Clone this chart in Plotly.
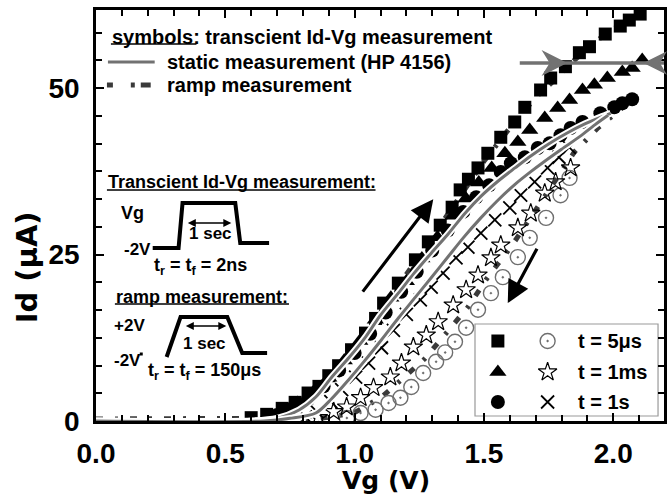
import plotly.graph_objects as go

# ---------------- data ----------------
sq_v = [0.60,0.66,0.72,0.77,0.82,0.862,0.90,0.938,0.988,1.042,1.081,1.112,1.169,1.235,1.285,1.331,1.377,1.408,1.44,1.477,1.515,1.565,1.619,1.658,1.719,1.758,1.815,1.869,1.908,1.969,2.027,2.062,2.104]
sq_i = [0.5,1.0,1.9,2.8,4.2,5.2,6.8,8.3,10.7,13.2,15.4,17.7,20.7,24.2,26.9,29.4,32.1,34.7,36.3,38.0,40.2,42.6,44.9,47.1,49.7,51.5,53.2,55.3,56.2,58.1,59.3,60.2,61.1]

tri_v = [0.66,0.72,0.78,0.84,0.90,0.96,1.02,1.08,1.14,1.20,1.26,1.32,1.38,1.43,1.48,1.53,1.581,1.631,1.677,1.735,1.785,1.831,1.881,1.927,1.977,2.035,2.073,2.112]
tri_i = [0.7,1.5,2.7,4.3,6.5,9.1,12.0,15.2,18.5,21.0,24.4,27.6,30.8,33.4,35.8,38.0,40.2,41.9,43.7,45.5,47.0,48.2,49.7,50.5,51.5,52.4,53.0,54.2]

cir_v = [0.70,0.76,0.82,0.88,0.94,1.00,1.06,1.12,1.18,1.24,1.30,1.36,1.42,1.47,1.52,1.565,1.604,1.658,1.708,1.754,1.796,1.835,1.881,1.95,2.004,2.035,2.073]
cir_i = [0.9,1.9,3.2,5.2,7.6,10.2,13.1,16.3,19.4,22.4,25.6,28.6,31.4,33.6,35.4,37.4,38.7,39.6,41.0,41.7,42.9,44.0,44.9,46.2,47.1,47.7,48.3]

ocir_v = [0.97,1.023,1.081,1.131,1.177,1.219,1.265,1.315,1.35,1.388,1.431,1.477,1.527,1.573,1.631,1.677,1.74,1.796,1.831]
ocir_i = [0.45,1.2,1.7,2.7,3.5,5.1,7.2,8.9,10.3,11.9,14.0,16.7,19.2,21.6,24.6,27.5,30.5,33.9,36.5]

star_v = [0.86,0.919,0.969,1.023,1.073,1.138,1.181,1.227,1.277,1.323,1.381,1.431,1.477,1.527,1.565,1.631,1.681,1.735,1.777,1.835]
star_i = [0.5,1.4,2.1,3.5,5.0,6.6,8.7,11.1,12.9,14.9,17.4,19.7,21.9,24.5,26.4,29.0,31.2,34.2,35.9,38.0]

x_v = [0.81,0.854,0.908,0.95,1.004,1.054,1.104,1.15,1.20,1.254,1.296,1.342,1.392,1.438,1.488,1.542,1.60,1.642,1.696,1.746,1.79,1.83]
x_i = [0.6,1.4,2.9,4.7,6.6,8.7,11.0,13.6,16.0,18.2,20.1,22.2,24.5,26.1,28.2,30.2,32.0,33.9,35.9,38.0,39.6,41.1]

static1_v = [0.0,0.60,0.70,0.785,0.85,0.912,0.98,1.042,1.10,1.169,1.23,1.296,1.36,1.427,1.49,1.554,1.62,1.681,1.75,1.82,1.89,1.95,1.99]
static1_i = [0.0,0.0,0.4,1.65,3.6,6.6,9.6,12.6,15.9,19.2,22.2,25.2,28.0,31.2,33.8,36.0,38.0,39.8,41.6,43.2,44.6,45.6,46.2]
static2_v = [0.0,0.65,0.75,0.85,0.91,0.977,1.04,1.104,1.17,1.235,1.30,1.362,1.42,1.488,1.55,1.619,1.68,1.735,1.80,1.87,1.93,1.98]
static2_i = [0.0,0.0,0.4,1.2,3.3,6.2,9.1,12.2,15.5,18.6,21.7,24.7,27.5,30.5,33.0,35.5,37.4,39.0,40.8,42.7,44.5,45.9]

rampup_v = [0.0,0.6,0.7,0.8,0.9,1.0,1.1,1.2,1.3,1.4,1.5,1.6,1.7,1.773,1.85,1.92,1.977,2.04,2.08]
rampup_i = [0.3,0.4,1.5,3.2,6.2,10.5,16.0,22.0,27.6,33.2,39.0,44.0,48.6,51.2,54.2,56.6,58.3,59.8,60.5]
rampdn_v = [2.05,1.94,1.888,1.85,1.80,1.73,1.658,1.604,1.55,1.508,1.438,1.35,1.27,1.181,1.104,1.004,0.95,0.85,0.75]
rampdn_i = [47.5,44.0,41.9,40.4,37.5,33.5,29.1,26.1,23.4,21.2,17.1,12.9,9.3,6.2,3.6,1.35,0.9,0.3,0.1]

x_ticks = [0.0, 0.5, 1.0, 1.5, 2.0]
x_ticktext = ["0.0", "0.5", "1.0", "1.5", "2.0"]
y_ticks = [0, 25, 50]
y_ticktext = ["0", "25", "50"]

legend_labels = ["t = 5μs", "t = 1ms", "t = 1s"]

# ---------------- layout helpers (pixel -> paper) ----------------
L, T, PW, PH = 96, 10, 571, 411
def xp(px):
    return (px - L) / PW
def yp(py):
    return (T + PH - py) / PH

FONT = "Liberation Sans"
BLACK = "black"
GRAY = "#727272"
DARK = "#3a3a3a"
OC = "#6e6e6e"

M_SQ = dict(symbol="square", size=13, color=BLACK)
M_TRI = dict(symbol="triangle-up", size=15, color=BLACK)
M_CIR = dict(symbol="circle", size=14, color=BLACK)
M_OC = dict(symbol="circle-open-dot", size=15, color=OC, line=dict(width=1.4, color=OC))
M_ST = dict(symbol="star-open", size=14, color=BLACK, line=dict(width=1.2, color=BLACK))
M_X = dict(symbol="x-thin-open", size=13, color=BLACK, line=dict(width=1.8, color=BLACK))

fig = go.Figure()

# ramp measurement (dash-dot)
for v, i in ((rampup_v, rampup_i), (rampdn_v, rampdn_i)):
    fig.add_trace(go.Scatter(x=v, y=i, mode="lines",
                             line=dict(color=DARK, width=5, dash="7px,12px,3px,12px"),
                             hoverinfo="skip", showlegend=False))

# transient markers
for v, i, m in ((sq_v, sq_i, M_SQ), (tri_v, tri_i, M_TRI), (cir_v, cir_i, M_CIR),
                (ocir_v, ocir_i, M_OC), (star_v, star_i, M_ST), (x_v, x_i, M_X)):
    fig.add_trace(go.Scatter(x=v, y=i, mode="markers", marker=m, showlegend=False))

# static measurement lines (gray with white halo)
for v, i in ((static1_v, static1_i), (static2_v, static2_i)):
    fig.add_trace(go.Scatter(x=v, y=i, mode="lines", line=dict(color="white", width=7, shape="spline", smoothing=0.8),
                             hoverinfo="skip", showlegend=False))
    fig.add_trace(go.Scatter(x=v, y=i, mode="lines", line=dict(color=GRAY, width=3, shape="spline", smoothing=0.8),
                             hoverinfo="skip", showlegend=False))

shapes = []
annotations = []

def pline(points, width=3.5, color=BLACK):
    d = "M " + " L ".join(f"{xp(a):.5f},{yp(b):.5f}" for a, b in points)
    shapes.append(dict(type="path", path=d, xref="paper", yref="paper",
                       line=dict(color=color, width=width), layer="above"))

def text(px, py, s, size=18, anchor="left", family=FONT, bold=True, color=BLACK):
    annotations.append(dict(x=xp(px), y=yp(py), xref="paper", yref="paper", text=s, showarrow=False,
                            xanchor=anchor, yanchor="middle",
                            font=dict(family=family, size=size, color=color, weight="bold" if bold else "normal")))

# legend box bottom-right with samples on an overlay paper-like axis
leg_rows = [341, 372, 402]
shapes.append(dict(type="rect", xref="paper", yref="paper", x0=xp(477), x1=xp(661), y0=yp(416), y1=yp(324),
                   line=dict(color="#9a9a9a", width=1.2), fillcolor="white", layer="below"))
for r, lab, mf, mo in zip(leg_rows, legend_labels, (M_SQ, M_TRI, M_CIR), (M_OC, M_ST, M_X)):
    fig.add_trace(go.Scatter(x=[xp(500)], y=[yp(r)], mode="markers", xaxis="x2", yaxis="y2",
                             marker=mf, showlegend=False, hoverinfo="skip"))
    fig.add_trace(go.Scatter(x=[xp(550)], y=[yp(r)], mode="markers", xaxis="x2", yaxis="y2",
                             marker=mo, showlegend=False, hoverinfo="skip"))
    text(579, r, lab, size=20)

# top-left legend
text(110, 37, "symbols: transcient Id-Vg measurement", size=20)
pline([(111, 44), (197, 44)], width=1.5)
pline([(108, 62), (155, 62)], width=3, color=GRAY)
text(165, 62, "static measurement (HP 4156)", size=20)
for a, b in ((107, 113), (131, 135), (141, 151)):
    pline([(a, 85), (b, 85)], width=5, color=DARK)
text(165, 85, "ramp measurement", size=20)

# inset: transient pulse
text(106, 182, "Transcient Id-Vg measurement:", size=18)
pline([(107, 190), (377, 190)], width=1.5)
text(133, 213, "Vg", size=18, anchor="center")
text(138, 249, "-2V", size=17, anchor="center")
pline([(153, 248), (179, 248), (183, 203), (236, 203), (241, 243), (270, 243)], width=4)
annotations.append(dict(x=xp(232), y=yp(223), xref="paper", yref="paper", ax=-45, ay=0, text="",
                        showarrow=True, arrowside="end+start", arrowhead=2, arrowsize=1, arrowwidth=1.6,
                        arrowcolor=BLACK))
text(211, 233, "1 sec", size=17, anchor="center")
text(152, 266, "t<sub>r</sub> = t<sub>f</sub> = 2ns", size=18)

# inset: ramp
text(114, 297, "ramp measurement:", size=18)
pline([(115, 304), (290, 304)], width=1.5)
text(130, 325, "+2V", size=17, anchor="center")
text(128, 360, "-2V", size=17, anchor="center")
pline([(140, 354), (143, 354)], width=3)
pline([(167, 357), (181, 317), (228, 317), (243, 353), (268, 353)], width=4)
annotations.append(dict(x=xp(227), y=yp(326), xref="paper", yref="paper", ax=-42, ay=0, text="",
                        showarrow=True, arrowside="end+start", arrowhead=2, arrowsize=1, arrowwidth=1.6,
                        arrowcolor=BLACK))
text(205, 343, "1 sec", size=17, anchor="center")
text(146, 371, "t<sub>r</sub> = t<sub>f</sub> = 150μs", size=18)

# gray horizontal arrow top-right
pline([(522, 63), (667, 63)], width=3.5, color=GRAY)
shapes.append(dict(type="path", xref="paper", yref="paper", layer="above",
                   path=f"M {xp(568)},{yp(63)} L {xp(546)},{yp(52)} L {xp(553)},{yp(63)} L {xp(546)},{yp(74)} Z",
                   fillcolor=GRAY, line=dict(color=GRAY, width=1.5)))
shapes.append(dict(type="path", xref="paper", yref="paper", layer="above",
                   path=f"M {xp(648)},{yp(63)} L {xp(668)},{yp(53)} L {xp(662)},{yp(63)} L {xp(668)},{yp(73)} Z",
                   fillcolor=GRAY, line=dict(color=GRAY, width=1.5)))

# black sweep-direction arrows
annotations.append(dict(x=1.304, y=33.3, ax=1.027, ay=19.2, xref="x", yref="y", axref="x", ayref="y",
                        text="", showarrow=True, arrowhead=2, arrowsize=1.4, arrowwidth=3.2, arrowcolor=BLACK))
annotations.append(dict(x=1.592, y=17.7, ax=1.708, ay=26.1, xref="x", yref="y", axref="x", ayref="y",
                        text="", showarrow=True, arrowhead=2, arrowsize=1.4, arrowwidth=3.2, arrowcolor=BLACK))

# axis titles
annotations.append(dict(x=xp(388), y=yp(480), xref="paper", yref="paper", text="Vg (V)", showarrow=False,
                        xanchor="center", yanchor="middle",
                        font=dict(family="DejaVu Sans", size=25, color=BLACK, weight="bold")))
annotations.append(dict(x=xp(27), y=yp(267), xref="paper", yref="paper", text="Id (μA)", showarrow=False,
                        xanchor="center", yanchor="middle", textangle=-90,
                        font=dict(family="DejaVu Sans", size=29, color=BLACK, weight="bold")))

axis_common = dict(showline=True, linecolor=BLACK, linewidth=2.6, mirror="allticks", ticks="inside",
                   ticklen=8, tickwidth=2.2, tickcolor=BLACK, showgrid=False, zeroline=False,
                   tickfont=dict(family=FONT, size=28, color=BLACK, weight="bold"))

fig.update_layout(
    width=670, height=500,
    margin=dict(l=L, r=670 - L - PW, t=T, b=500 - T - PH),
    paper_bgcolor="white", plot_bgcolor="white",
    showlegend=False,
    xaxis=dict(range=[0, PW / 260.0], tickvals=x_ticks, ticktext=x_ticktext, ticklabelstandoff=6,
               minor=dict(dtick=0.1, ticks="inside", ticklen=6, tickwidth=2, tickcolor=BLACK),
               **axis_common),
    yaxis=dict(range=[0, PH / 6.66], tickvals=y_ticks, ticktext=y_ticktext, ticklabelstandoff=8,
               minor=dict(dtick=25 / 6, ticks="inside", ticklen=6, tickwidth=2, tickcolor=BLACK),
               **axis_common),
    xaxis2=dict(range=[0, 1], overlaying="x", visible=False, fixedrange=True),
    yaxis2=dict(range=[0, 1], overlaying="y", visible=False, fixedrange=True),
    shapes=shapes,
    annotations=annotations,
)

fig.write_html("out.html")
